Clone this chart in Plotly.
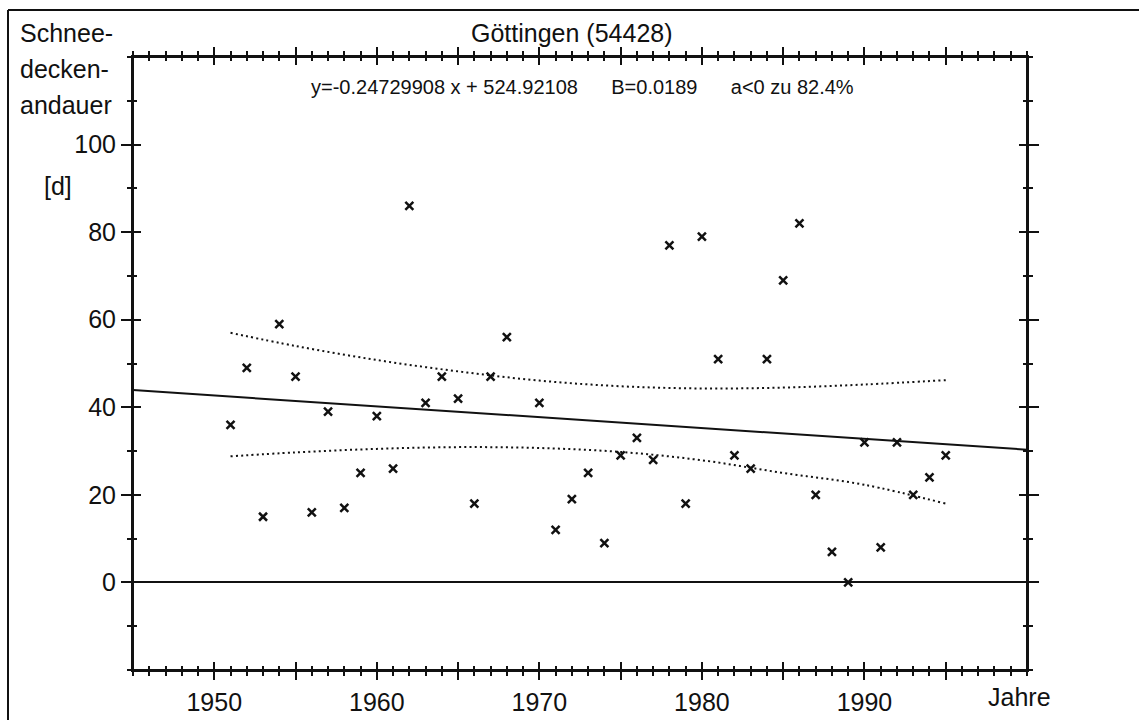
import plotly.graph_objects as go

# Snow-cover duration per winter, Göttingen station 54428
YEARS = [1951, 1952, 1953, 1954, 1955, 1956, 1957, 1958, 1959, 1960,
         1961, 1962, 1963, 1964, 1965, 1966, 1967, 1968, 1970,
         1971, 1972, 1973, 1974, 1975, 1976, 1977, 1978, 1979, 1980,
         1981, 1982, 1983, 1984, 1985, 1986, 1987, 1988, 1989, 1990,
         1991, 1992, 1993, 1994, 1995]
DAYS = [36, 49, 15, 59, 47, 16, 39, 17, 25, 38,
        26, 86, 41, 47, 42, 18, 47, 56, 41,
        12, 19, 25, 9, 29, 33, 28, 77, 18, 79,
        51, 29, 26, 51, 69, 82, 20, 7, 0, 32,
        8, 32, 20, 24, 29]

# Confidence band around the trend line
BAND_YEARS = [1951, 1955, 1960, 1965, 1970, 1975, 1980, 1985, 1990, 1995]
BAND_UPPER = [57.0, 54.0, 50.8, 48.2, 46.1, 44.8, 44.3, 44.5, 45.2, 46.2]
BAND_LOWER = [28.8, 29.7, 30.5, 30.9, 30.7, 29.8, 27.9, 25.0, 22.3, 18.0]

# Linear trend as stated in the header line
SLOPE = -0.24729908
INTERCEPT = 524.92108
B_VALUE = "0.0189"
P_NEGATIVE = "82.4%"

X_RANGE = [1945, 2000]
Y_RANGE = [-20, 120]
X_TICKS = [1950, 1955, 1960, 1965, 1970, 1975, 1980, 1985, 1990, 1995]
X_TICK_LABELS = ["1950", "", "1960", "", "1970", "", "1980", "", "1990", ""]
Y_TICKS = [0, 20, 40, 60, 80, 100]
Y_TICK_LABELS = ["0", "20", "40", "60", "80", "100"]

FONT = "Liberation Sans, Arial, Helvetica, sans-serif"
INK = "#111111"

W, H = 1139, 720
ML, MR, MT, MB = 133, 112, 57, 50
PW, PH = W - ML - MR, H - MT - MB


def px(xp):
    return (xp - ML) / PW


def py(yp):
    return (H - MB - yp) / PH


fig = go.Figure()

band_line = dict(color=INK, width=2, dash="2px,3.2px", shape="spline")
fig.add_trace(go.Scatter(x=BAND_YEARS, y=BAND_UPPER, mode="lines",
                         line=band_line, hoverinfo="skip", showlegend=False))
fig.add_trace(go.Scatter(x=BAND_YEARS, y=BAND_LOWER, mode="lines",
                         line=band_line, hoverinfo="skip", showlegend=False))

# The trend line sits on the overlay axes (same ranges) that carry the
# inward half of the crossing ticks.
trend_x = X_RANGE
trend_y = [SLOPE * x + INTERCEPT for x in trend_x]
fig.add_trace(go.Scatter(x=trend_x, y=trend_y, mode="lines",
                         xaxis="x2", yaxis="y2",
                         line=dict(color=INK, width=2), showlegend=False))

fig.add_trace(go.Scatter(x=YEARS, y=DAYS, mode="markers",
                         marker=dict(symbol="x-thin", size=8,
                                     line=dict(width=2.5, color=INK)),
                         showlegend=False))

tickfont = dict(family=FONT, size=25, color=INK)
common_x = dict(range=X_RANGE, tickmode="array", tickvals=X_TICKS,
                showgrid=False, zeroline=False, tickcolor=INK, tickwidth=2,
                automargin=False)
common_y = dict(range=Y_RANGE, tickmode="array", tickvals=Y_TICKS,
                showgrid=False, tickcolor=INK, tickwidth=2, automargin=False)

fig.update_layout(
    width=W, height=H,
    margin=dict(l=ML, r=MR, t=MT, b=MB, pad=0, autoexpand=False),
    paper_bgcolor="white", plot_bgcolor="white",
    showlegend=False,
    xaxis=dict(**common_x, ticktext=X_TICK_LABELS, ticks="outside", ticklen=8,
               showline=True, linecolor=INK, linewidth=2, mirror="ticks",
               tickfont=tickfont, ticklabelstandoff=1,
               minor=dict(ticks="outside", ticklen=4, tickwidth=1.5,
                          tickcolor=INK, dtick=1, tick0=1945, showgrid=False)),
    xaxis2=dict(**common_x, overlaying="x", anchor="y2", ticks="inside",
                ticklen=8, showline=False, mirror="ticks", showticklabels=False,
                minor=dict(ticks="inside", ticklen=4, tickwidth=1.5,
                           tickcolor=INK, dtick=1, tick0=1945, showgrid=False)),
    yaxis=dict(**common_y, ticktext=Y_TICK_LABELS, ticks="outside", ticklen=10,
               showline=True, linecolor=INK, linewidth=2, mirror="ticks",
               zeroline=True, zerolinecolor=INK, zerolinewidth=2,
               tickfont=tickfont, ticklabelstandoff=0,
               minor=dict(ticks="outside", ticklen=4, tickwidth=1.5,
                          tickcolor=INK, dtick=10, tick0=0, showgrid=False)),
    yaxis2=dict(**common_y, overlaying="y", anchor="x2", ticks="inside",
                ticklen=8, showline=False, mirror="ticks", zeroline=False,
                showticklabels=False,
                minor=dict(ticks="inside", ticklen=4, tickwidth=1.5,
                           tickcolor=INK, dtick=10, tick0=0, showgrid=False)),
)

big = dict(family=FONT, size=25, color=INK)
small = dict(family=FONT, size=20, color=INK)
gap = "&nbsp;" * 6
header = (f"y={SLOPE:.8f} x + {INTERCEPT:.5f}{gap}B={B_VALUE}{gap}"
          f"a&lt;0 zu {P_NEGATIVE}")

annotations = [
    dict(text="Göttingen (54428)", x=px(572), y=py(33), xanchor="center",
         yanchor="middle", font=big),
    dict(text=header, x=px(582), y=py(87), xanchor="center",
         yanchor="middle", font=small),
    dict(text="Schnee-", x=px(18), y=py(33), xanchor="left",
         yanchor="middle", font=big),
    dict(text="decken-", x=px(18), y=py(69), xanchor="left",
         yanchor="middle", font=big),
    dict(text="andauer", x=px(18), y=py(105), xanchor="left",
         yanchor="middle", font=big),
    dict(text="[d]", x=px(58), y=py(186), xanchor="center",
         yanchor="middle", font=big),
    dict(text="Jahre", x=px(1019), y=py(697), xanchor="center",
         yanchor="middle", font=big),
]
for a in annotations:
    a.update(xref="paper", yref="paper", showarrow=False)
fig.update_layout(annotations=annotations)

# Plot frame and the page border along the top and left edges
fig.add_shape(type="rect", xref="paper", yref="paper", x0=0, x1=1, y0=0, y1=1,
              line=dict(color=INK, width=2), layer="above")
frame = dict(type="line", xref="paper", yref="paper",
             line=dict(color=INK, width=2))
fig.add_shape(**frame, x0=px(8), x1=px(W), y0=py(10), y1=py(10))
fig.add_shape(**frame, x0=px(8), x1=px(8), y0=py(10), y1=py(H))

fig.write_html("out.html")
